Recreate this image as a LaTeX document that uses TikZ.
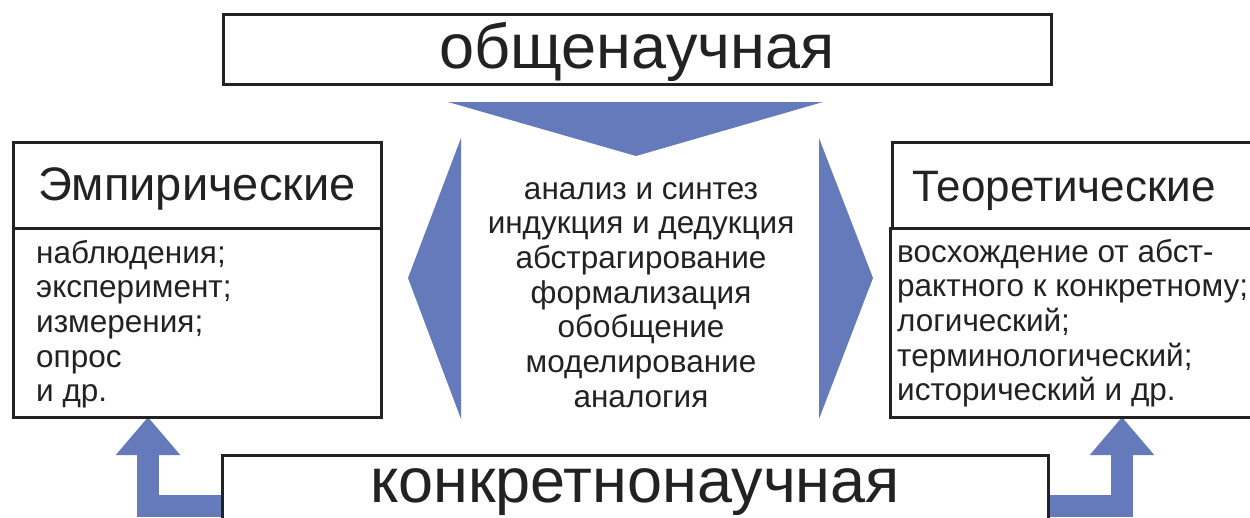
\documentclass[tikz,border=0pt]{standalone}
\usepackage{fontspec}
\setmainfont{Liberation Sans}
\usetikzlibrary{arrows.meta}
\usetikzlibrary{backgrounds}

\definecolor{methblue}{RGB}{101,122,186}
\definecolor{inkgray}{RGB}{34,34,34}

\tikzset{
  box/.style={draw=inkgray, line width=3pt, fill=white, inner sep=0pt, outer sep=0pt},
  bigtext/.style={font=\fontsize{63}{70}\selectfont, text=inkgray, inner sep=0pt},
  headtext/.style={font=\fontsize{46}{50}\selectfont, text=inkgray, inner sep=0pt},
  smalltext/.style={font=\fontsize{31.5}{34.7}\selectfont, text=inkgray, inner sep=0pt},
  upflow/.style={methblue, line width=22pt, line join=miter,
    -{Triangle[width=62pt,length=38pt]}},
}

\begin{document}
\begin{tikzpicture}[x=1pt,y=-1pt]
    \useasboundingbox (0,0) rectangle (1250,517);

    % frames
    \node[box, anchor=north, minimum width=828pt, minimum height=70pt] (obshch) at (637,14) {};
    \node[box, anchor=north west, minimum width=368pt, minimum height=86pt] (empHead) at (13,142) {};
    \node[box, anchor=north west, minimum width=368pt, minimum height=189pt] (empBody) at (13,228) {};
    \node[box, anchor=north west, minimum width=400pt, minimum height=86pt] (teoHead) at (892,142) {};
    \node[box, anchor=north west, minimum width=400pt, minimum height=189pt] (teoBody) at (890,228) {};
    \node[box, anchor=north, minimum width=826pt, minimum height=102pt] (konkr) at (635,455) {};

    % texts
    \node[bigtext, anchor=base] (obshchText) at (637,68) {общенаучная};
    \node[bigtext, anchor=base] (konkrText) at (635,502) {конкретнонаучная};
    \node[headtext, font=\fontsize{47}{50}\selectfont, anchor=base] (empTitle) at (197,200) {Эмпирические};
    \node[headtext, font=\fontsize{44}{50}\selectfont, anchor=base west] (teoTitle) at (912,201) {Теоретические};
    \node[smalltext, anchor=base west] (empList) at (36,263)
      {\begin{tabular}[t]{@{}l@{}}наблюдения;\\эксперимент;\\измерения;\\опрос\\и др.\end{tabular}};
    \node[smalltext, anchor=base west] (teoList) at (897,262)
      {\begin{tabular}[t]{@{}l@{}}восхождение от абст-\\рактного к конкретному;\\логический;\\терминологический;\\исторический и др.\end{tabular}};
    \node[smalltext, anchor=base] (methods) at (641,199)
      {\begin{tabular}[t]{@{}c@{}}анализ и синтез\\индукция и дедукция\\абстрагирование\\формализация\\обобщение\\моделирование\\аналогия\end{tabular}};

    % wedges round the general methods
    \fill[methblue] (448,102) -- (823,102) -- (636,156) -- cycle;
    \fill[methblue] (461,138) -- (408,278) -- (461,419) -- cycle;
    \fill[methblue] (819,138) -- (873,278) -- (819,419) -- cycle;

    % arrows up from the bottom frame
    \begin{scope}[on background layer]
      \draw[upflow] (konkr.west) -| (148,0 |- empBody.south);
      \draw[upflow] (konkr.east) -| (1122,0 |- teoBody.south);
    \end{scope}
\end{tikzpicture}
\end{document}
